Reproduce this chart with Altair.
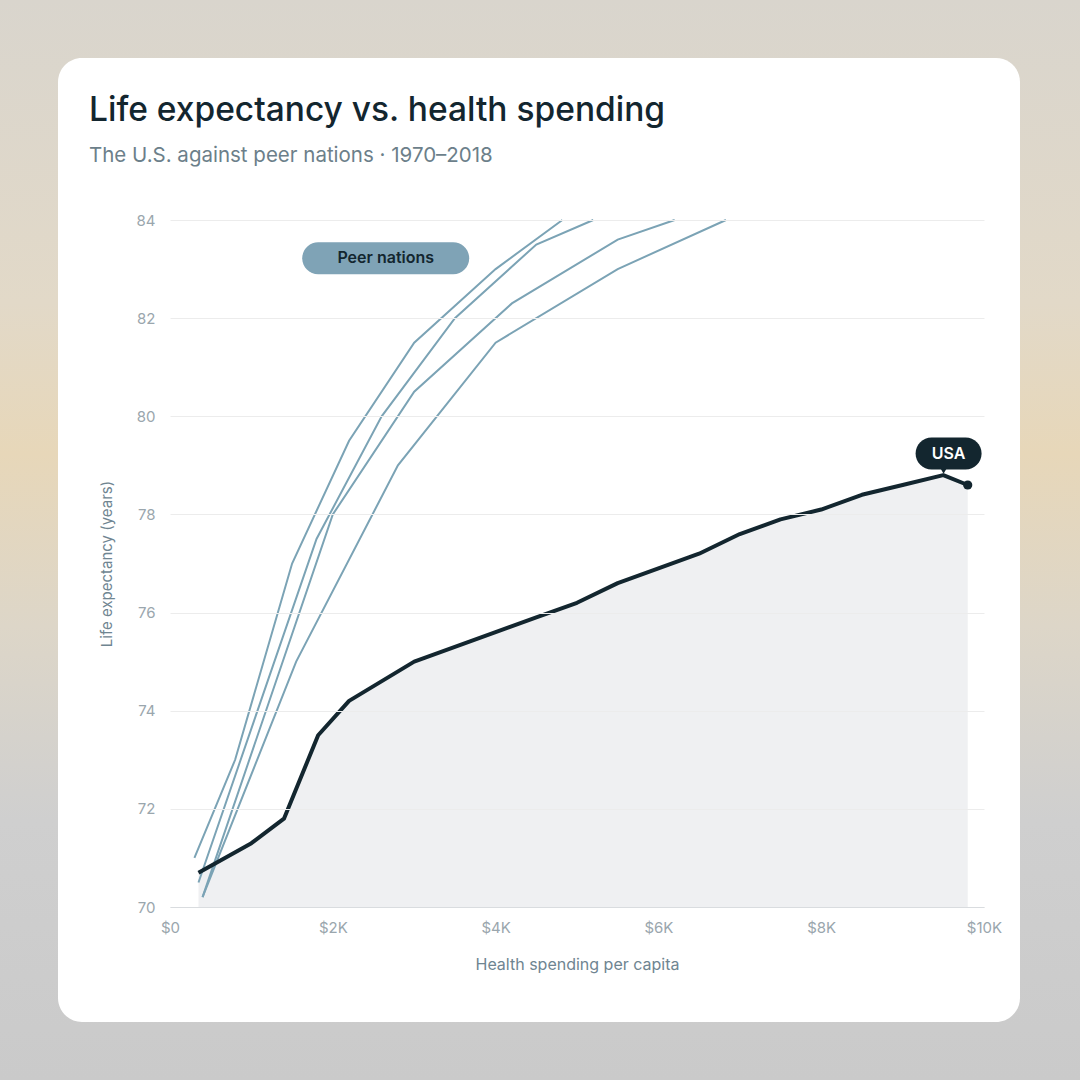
import altair as alt
import pandas as pd

# ---------------- data ----------------
usa_spend = [350, 1000, 1400, 1820, 2200, 3000, 3500, 4000, 4500, 5000,
             5500, 6000, 6500, 7000, 7500, 8000, 8500, 9000, 9500, 9800]
usa_life = [70.7, 71.3, 71.8, 73.5, 74.2, 75.0, 75.3, 75.6, 75.9, 76.2,
            76.6, 76.9, 77.2, 77.6, 77.9, 78.1, 78.4, 78.6, 78.8, 78.6]

peer_a_spend = [300, 800, 1500, 2200, 3000, 4000, 4820]
peer_a_life = [71.0, 73.0, 77.0, 79.5, 81.5, 83.0, 84.0]
peer_b_spend = [350, 1800, 2600, 3500, 4500, 5200]
peer_b_life = [70.5, 77.5, 80.0, 82.0, 83.5, 84.0]
peer_c_spend = [400, 2000, 3000, 4200, 5500, 6200]
peer_c_life = [70.2, 78.0, 80.5, 82.3, 83.6, 84.0]
peer_d_spend = [400, 1550, 2800, 4000, 5500, 6830]
peer_d_life = [70.2, 75.0, 79.0, 81.5, 83.0, 84.0]

x_ticks = [0, 2000, 4000, 6000, 8000, 10000]
y_ticks = [70, 72, 74, 76, 78, 80, 82, 84]

badge_text = ["Peer nations", "USA"]
badge_spend = [2650, 9565]
badge_life = [83.22, 79.24]

TITLE = "Life expectancy vs. health spending"
SUBTITLE = "The U.S. against peer nations · 1970–2018"

# ---------------- frames ----------------
usa = pd.DataFrame({"spend": usa_spend, "life": usa_life})
usa_end = pd.DataFrame({"spend": [usa_spend[-1]], "life": [usa_life[-1]]})
peers = pd.concat([
    pd.DataFrame({"spend": s, "life": l, "nation": n, "order": range(len(s))})
    for s, l, n in [(peer_a_spend, peer_a_life, "Peer 1"),
                    (peer_b_spend, peer_b_life, "Peer 2"),
                    (peer_c_spend, peer_c_life, "Peer 3"),
                    (peer_d_spend, peer_d_life, "Peer 4")]
])
peer_badge = pd.DataFrame({"spend": [badge_spend[0]], "life": [badge_life[0]], "t": [badge_text[0]]})
usa_badge = pd.DataFrame({"spend": [badge_spend[1]], "life": [badge_life[1]], "t": [badge_text[1]]})
one = pd.DataFrame({"a": [0]})
titles = pd.DataFrame({"t": [TITLE]})
subtitles = pd.DataFrame({"t": [SUBTITLE]})

FONT = "Inter"
DARK = "#13262f"
PEER = "#7ba3b5"

PAD_L, PAD_T, W, H = 170, 220, 814, 687

xscale = alt.Scale(domain=[0, 10000], nice=False)
yscale = alt.Scale(domain=[70, 84], nice=False, zero=False)

xaxis = alt.Axis(
    values=x_ticks, grid=False, ticks=False, domain=True, domainColor="#d9dcdf",
    labelExpr="datum.value == 0 ? '$0' : '$' + (datum.value / 1000) + 'K'",
    labelColor="#9aa6ad", labelFontSize=15, labelPadding=13, labelFont=FONT,
    labelFlush=False,
    title="Health spending per capita", titleColor="#6f8591", titleFontSize=16,
    titleFontWeight="normal", titleFont=FONT, titlePadding=21, zindex=1,
)
yaxis = alt.Axis(
    values=y_ticks, grid=True, gridColor="#ececec", ticks=False, domain=False,
    labelColor="#9aa6ad", labelFontSize=15, labelPadding=15, labelFont=FONT,
    labelFlush=False,
    title="Life expectancy (years)", titleColor="#6f8591", titleFontSize=15,
    titleFontWeight="normal", titleFont=FONT, titlePadding=22, zindex=1,
)

X = alt.X("spend:Q", scale=xscale, axis=xaxis)
Y = alt.Y("life:Q", scale=yscale, axis=yaxis)

# background photo-like gradient and card
bg = alt.Chart(one).mark_rect(
    fill=alt.Gradient(
        gradient="linear",
        stops=[
            alt.GradientStop(color="#d9d5cd", offset=0),
            alt.GradientStop(color="#e2d9c8", offset=0.28),
            alt.GradientStop(color="#e7d7b9", offset=0.42),
            alt.GradientStop(color="#ddd6c8", offset=0.58),
            alt.GradientStop(color="#cfcfcf", offset=0.76),
            alt.GradientStop(color="#cacaca", offset=1),
        ],
        x1=0, x2=0, y1=0, y2=1,
    )
).encode(x=alt.value(-PAD_L), x2=alt.value(1080 - PAD_L),
         y=alt.value(-PAD_T), y2=alt.value(1080 - PAD_T))

card = alt.Chart(one).mark_rect(fill="white", cornerRadius=24).encode(
    x=alt.value(58 - PAD_L), x2=alt.value(1020 - PAD_L),
    y=alt.value(58 - PAD_T), y2=alt.value(1022 - PAD_T))

title = alt.Chart(titles).mark_text(
    align="left", baseline="alphabetic", font=FONT, fontSize=33.5,
    fontWeight=500, color=DARK
).encode(x=alt.value(89 - PAD_L), y=alt.value(121 - PAD_T), text="t:N")

subtitle = alt.Chart(subtitles).mark_text(
    align="left", baseline="alphabetic", font=FONT, fontSize=20.5,
    fontWeight="normal", color="#6c7f8a"
).encode(x=alt.value(89 - PAD_L), y=alt.value(162 - PAD_T), text="t:N")

area = alt.Chart(usa).mark_area(color="#eff0f2", opacity=1).encode(
    x=X, y=Y, y2=alt.datum(70))

peer_lines = alt.Chart(peers).mark_line(color=PEER, strokeWidth=2).encode(
    x=X, y=Y, detail="nation:N", order="order:Q")

usa_line = alt.Chart(usa).mark_line(color=DARK, strokeWidth=4, strokeJoin="round").encode(
    x=X, y=Y)

usa_dot = alt.Chart(usa_end).mark_circle(color=DARK, size=85, opacity=1).encode(x=X, y=Y)

peer_badge_rect = alt.Chart(peer_badge).mark_rect(
    width=167, height=32, cornerRadius=16, color="#7fa3b6").encode(x=X, y=Y)
peer_badge_text = alt.Chart(peer_badge).mark_text(
    font=FONT, fontSize=16, fontWeight=600, color=DARK, baseline="middle"
).encode(x=X, y=Y, text="t:N")

usa_badge_tip = alt.Chart(usa_badge).mark_point(
    shape="triangle-down", filled=True, size=55, color=DARK, opacity=1,
    yOffset=17, xOffset=-5).encode(x=X, y=Y)
usa_badge_rect = alt.Chart(usa_badge).mark_rect(
    width=66, height=32, cornerRadius=16, color=DARK).encode(x=X, y=Y)
usa_badge_text = alt.Chart(usa_badge).mark_text(
    font=FONT, fontSize=16, fontWeight=600, color="white", baseline="middle"
).encode(x=X, y=Y, text="t:N")

chart = alt.layer(
    bg, card, title, subtitle, area, peer_lines, usa_line, usa_dot,
    peer_badge_rect, peer_badge_text, usa_badge_tip, usa_badge_rect, usa_badge_text
).properties(
    width=W, height=H,
    autosize=alt.AutoSizeParams(type="none"),
    padding={"left": PAD_L, "top": PAD_T, "right": 1080 - PAD_L - W, "bottom": 1080 - PAD_T - H},
    background="#d6d3cc",
).configure_view(strokeWidth=0)

chart.save("out.html", embed_options={"renderer": "svg", "actions": False})
